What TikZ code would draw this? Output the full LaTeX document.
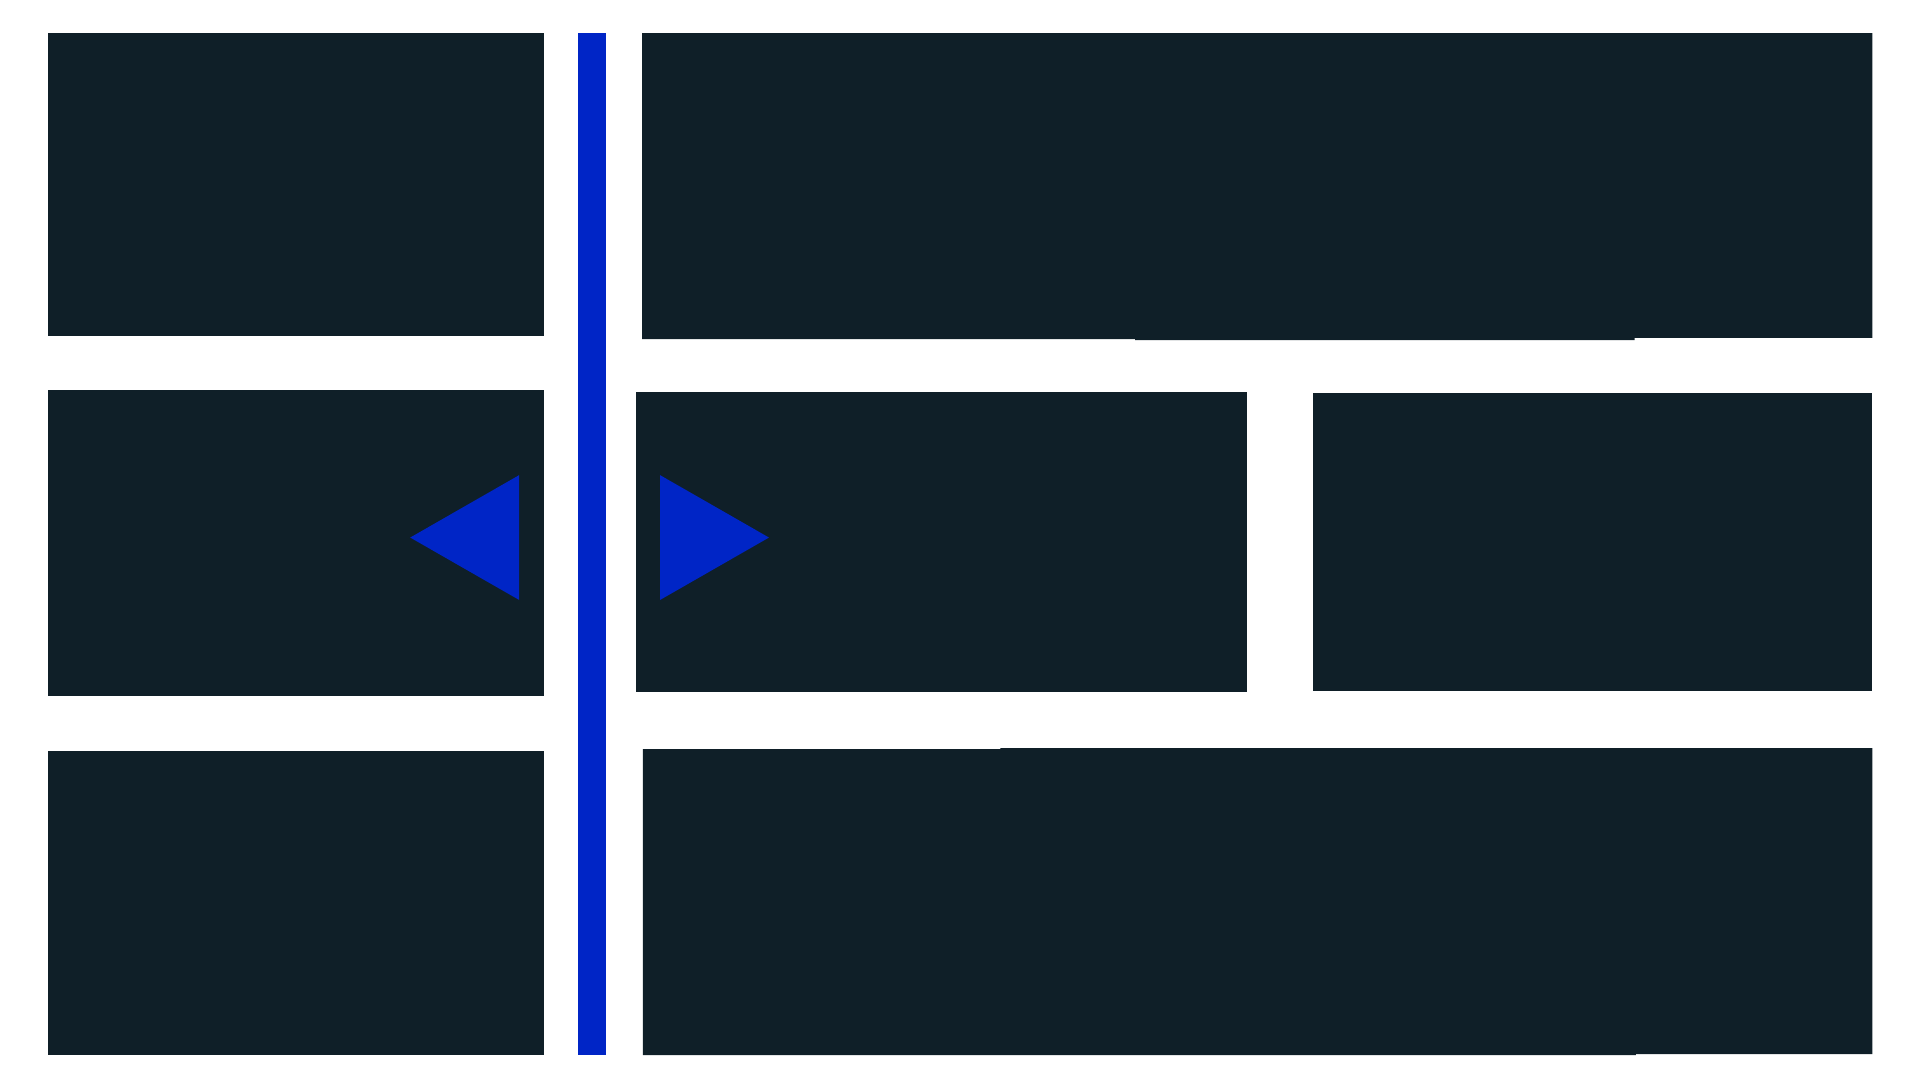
\documentclass[tikz,border=0pt]{standalone}
\usepackage{xcolor}
\usepackage{tikz}
\definecolor{panel}{HTML}{0F1F28}
\definecolor{accent}{HTML}{0025C6}
\tikzset{
  slab/.style={fill=panel, draw=none},
  bar/.style={fill=accent, draw=none},
  tip/.style={fill=accent, draw=none}
}

\begin{document}
\begin{tikzpicture}[x=1pt, y=-1pt]
  \useasboundingbox (0,0) rectangle (1568,882);

  % left column
  \fill[slab] (39,27) rectangle (444,274.4);
  \fill[slab] (39,318.5) rectangle (444,568.4);
  \fill[slab] (39,613.3) rectangle (444,861.6);

  % divider
  \fill[bar] (472.1,27) rectangle (494.7,861.6);

  % right side
  \fill[slab] (524.3,27) -- (1529,27) -- (1529,276) -- (1335,276) -- (1335,277.7)
    -- (927,277.7) -- (927,276.9) -- (524.3,276.9) -- cycle;
  \fill[slab] (519.5,320.1) rectangle (1018.4,565.1);
  \fill[slab] (1072,321) rectangle (1529,564.3);
  \fill[slab] (525,611.7) -- (817,611.7) -- (817,610.9) -- (1529,610.9) -- (1529,860.8)
    -- (1336,860.8) -- (1336,861.6) -- (525,861.6) -- cycle;

  % arrow tips
  \fill[tip] (424,388) -- (424,490) -- (335,439) -- cycle;
  \fill[tip] (539,388) -- (539,490) -- (628,439) -- cycle;
\end{tikzpicture}
\end{document}
